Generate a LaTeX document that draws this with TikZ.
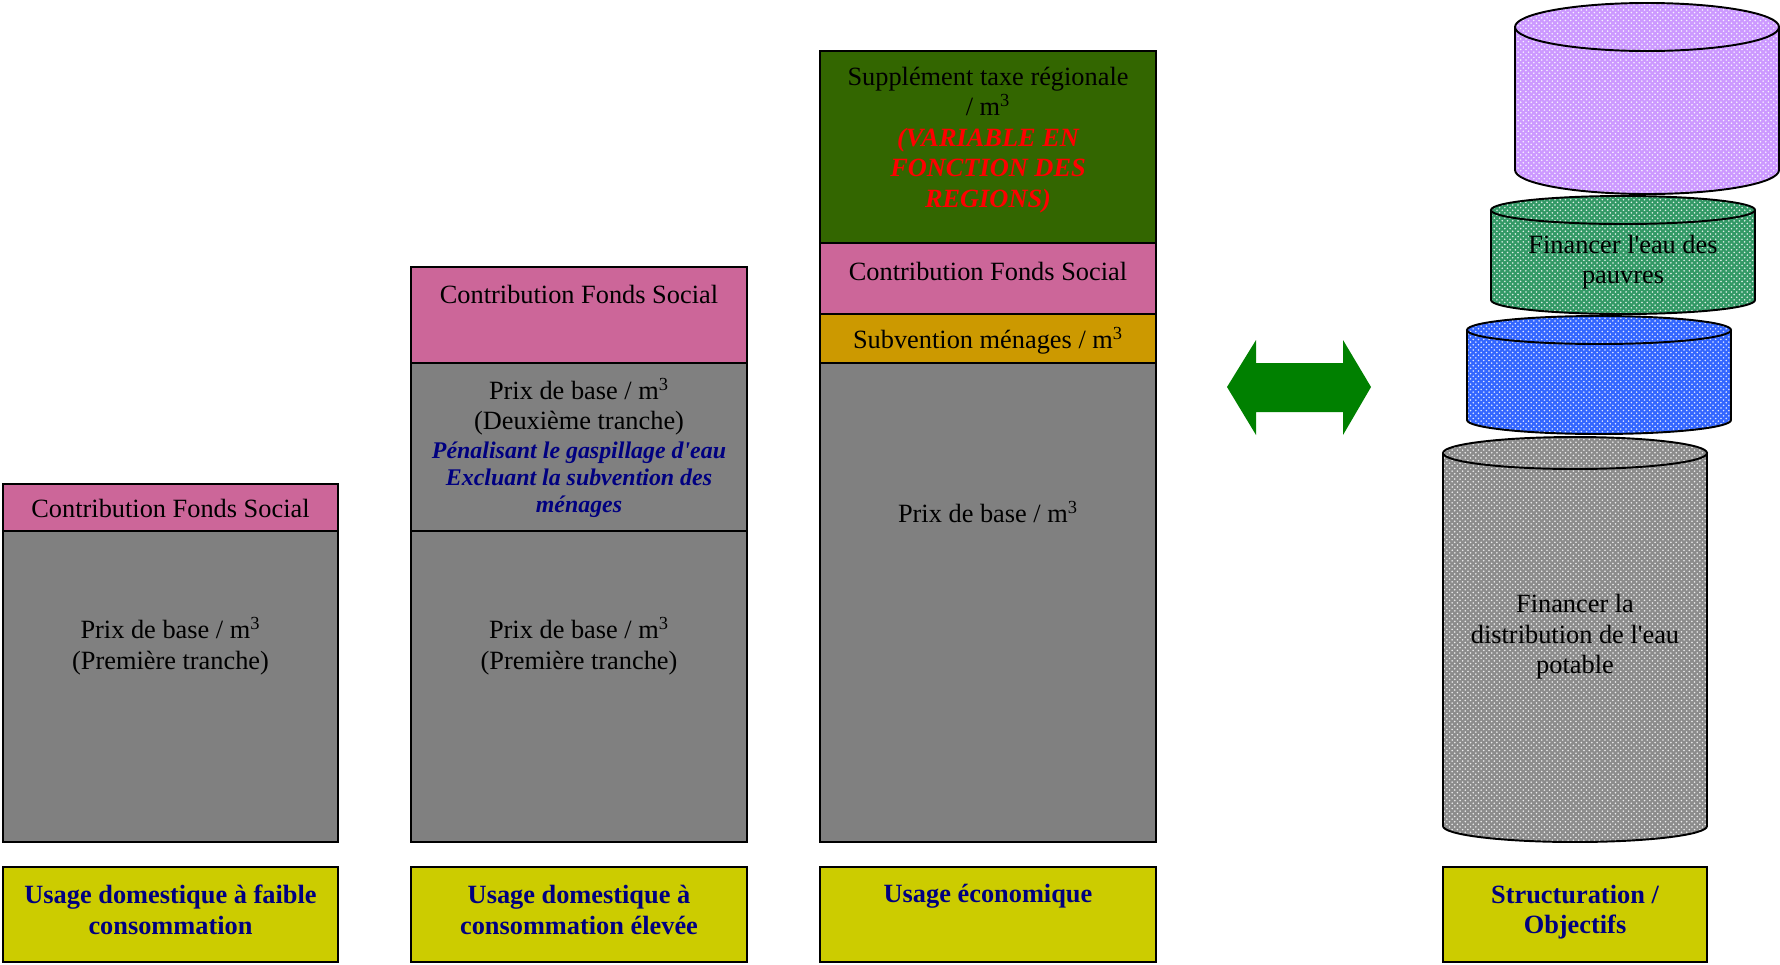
\documentclass[tikz,border=0pt]{standalone}
\usepackage{fontspec}
\setmainfont{Liberation Serif}
\usetikzlibrary{patterns}

\definecolor{rose}{HTML}{CC6699}
\definecolor{gris}{HTML}{808080}
\definecolor{vertfonce}{HTML}{336600}
\definecolor{ocre}{HTML}{CC9900}
\definecolor{jaune}{HTML}{CCCC00}
\definecolor{marine}{HTML}{000080}
\definecolor{vertfleche}{HTML}{008000}
\definecolor{mauve}{HTML}{CC99FF}
\definecolor{vertcyl}{HTML}{339966}
\definecolor{bleucyl}{HTML}{3366FF}
\definecolor{griscyl}{HTML}{8C8C8C}

\tikzset{
  bloc/.style={draw=black, line width=1.1pt},
  txt/.style={font=\fontsize{15}{17.4}\selectfont, align=center, inner sep=0pt},
  etiquette/.style={txt, font=\fontsize{15}{17.4}\selectfont\bfseries, text=marine},
}

% cylindre : cx, y haut, y bas, rx, ry, couleur
\newcommand{\cylindre}[6]{%
  \fill[#6] (#1-#4,#2) -- (#1-#4,#3) arc[start angle=180, end angle=0, x radius=#4, y radius=#5] -- (#1+#4,#2) -- cycle;
  \fill[pattern=crosshatch dots, pattern color=white!85!#6] (#1-#4,#2) -- (#1-#4,#3) arc[start angle=180, end angle=0, x radius=#4, y radius=#5] -- (#1+#4,#2) -- cycle;
  \draw[bloc] (#1-#4,#2) -- (#1-#4,#3) arc[start angle=180, end angle=0, x radius=#4, y radius=#5] -- (#1+#4,#2);
  \fill[#6] (#1,#2) ellipse[x radius=#4, y radius=#5];
  \fill[pattern=crosshatch dots, pattern color=white!85!#6] (#1,#2) ellipse[x radius=#4, y radius=#5];
  \draw[bloc] (#1,#2) ellipse[x radius=#4, y radius=#5];
}
\newcommand{\apos}{\textquotesingle}

\begin{document}
\begin{tikzpicture}[x=0.02cm, y=-0.02cm]

\useasboundingbox (0,0) rectangle (1780,964);

% Usage domestique a faible consommation
\draw[bloc, fill=rose] (3,484) rectangle (338,531);
\draw[bloc, fill=gris] (3,531) rectangle (338,842);
\draw[bloc, fill=jaune] (3,867) rectangle (338,962);
\node[txt] (fs1) at (170.5,508) {Contribution Fonds Social};
\node[txt] (pb1) at (170.5,646) {Prix de base / m\textsuperscript{3}\\(Première tranche)};
\node[etiquette] (u1) at (170.5,910) {Usage domestique à faible\\consommation};

% Usage domestique a consommation elevee
\draw[bloc, fill=rose] (411,267) rectangle (747,363);
\draw[bloc, fill=gris] (411,363) rectangle (747,531);
\draw[bloc, fill=gris] (411,531) rectangle (747,842);
\draw[bloc, fill=jaune] (411,867) rectangle (747,962);
\node[txt] (fs2) at (579,294) {Contribution Fonds Social};
\node[txt] (pb2) at (579,448) {Prix de base / m\textsuperscript{3}\\(Deuxième tranche)\\[-1pt]
  {\fontsize{13.6}{15.5}\selectfont\bfseries\itshape\color{marine}Pénalisant le gaspillage d\apos eau}\\[-2pt]
  {\fontsize{13.6}{15.5}\selectfont\bfseries\itshape\color{marine}Excluant la subvention des}\\[-2pt]
  {\fontsize{13.6}{15.5}\selectfont\bfseries\itshape\color{marine}ménages}};
\node[txt] (pt2) at (579,646) {Prix de base / m\textsuperscript{3}\\(Première tranche)};
\node[etiquette] (u2) at (579,910) {Usage domestique à\\consommation élevée};

% Usage economique
\draw[bloc, fill=vertfonce] (820,51) rectangle (1156,243);
\draw[bloc, fill=rose] (820,243) rectangle (1156,314);
\draw[bloc, fill=ocre] (820,314) rectangle (1156,363);
\draw[bloc, fill=gris] (820,363) rectangle (1156,842);
\draw[bloc, fill=jaune] (820,867) rectangle (1156,962);
\node[txt] (st3) at (988,140) {Supplément taxe régionale\\/ m\textsuperscript{3}\\
  {\bfseries\itshape\color{red}(VARIABLE EN}\\{\bfseries\itshape\color{red}FONCTION DES}\\{\bfseries\itshape\color{red}REGIONS)}};
\node[txt] (fs3) at (988,271) {Contribution Fonds Social};
\node[txt] (sm3) at (988,341) {Subvention ménages / m\textsuperscript{3}};
\node[txt] (pb3) at (988,512) {Prix de base / m\textsuperscript{3}};
\node[etiquette] (u3) at (988,896) {Usage économique};

% Fleche double
\fill[vertfleche] (1227,387) -- (1256,340) -- (1256,363) -- (1343,363) -- (1343,340) -- (1371,387)
  -- (1343,435) -- (1343,412) -- (1256,412) -- (1256,435) -- cycle;

% Structuration / Objectifs
\cylindre{1575}{453}{826}{132}{16}{griscyl}
\cylindre{1599}{330}{420}{132}{14}{bleucyl}
\cylindre{1623}{210}{300}{132}{14}{vertcyl}
\cylindre{1647}{27}{170}{132}{24}{mauve}
\node[txt] (obj2) at (1623,262) {Financer l\apos eau des\\pauvres};
\node[txt] (obj1) at (1575,637) {Financer la\\distribution de l\apos eau\\potable};
\draw[bloc, fill=jaune] (1443,867) rectangle (1707,962);
\node[etiquette] (u4) at (1575,912) {Structuration /\\Objectifs};

\end{tikzpicture}
\end{document}
